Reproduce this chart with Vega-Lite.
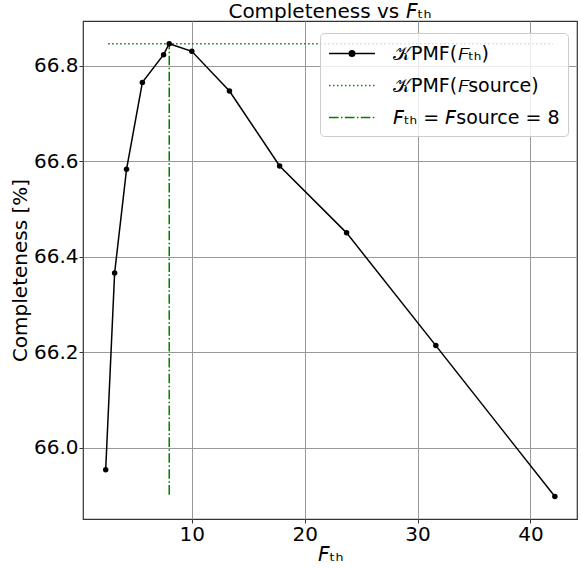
{
  "$schema": "https://vega.github.io/schema/vega-lite/v6.json",
  "width": 494,
  "height": 498,
  "autosize": {"type": "none"},
  "padding": {"left": 83, "top": 21, "right": 5, "bottom": 50},
  "background": "white",
  "config": {
    "font": "DejaVu Sans",
    "view": {"stroke": "#333333", "strokeWidth": 1.2},
    "axis": {
      "labelFont": "DejaVu Sans",
      "titleFont": "DejaVu Sans",
      "labelFontSize": 20,
      "titleFontSize": 20,
      "titleFontWeight": "normal",
      "labelColor": "black",
      "titleColor": "black",
      "domain": false,
      "tickColor": "#333333",
      "tickSize": 4,
      "gridColor": "#999999",
      "gridWidth": 1,
      "gridOpacity": 1
    }
  },
  "title": {
    "text": "Completeness vs 𝘍ₜₕ",
    "font": "DejaVu Sans",
    "fontSize": 20,
    "fontWeight": "normal",
    "color": "black",
    "offset": 3,
    "dy": 4
  },
  "datasets": {
    "curve": [
      {"F": 2.371, "C": 65.954},
      {"F": 3.162, "C": 66.366},
      {"F": 4.217, "C": 66.583},
      {"F": 5.623, "C": 66.765},
      {"F": 7.499, "C": 66.823},
      {"F": 8.0, "C": 66.846},
      {"F": 10.0, "C": 66.830},
      {"F": 13.335, "C": 66.747},
      {"F": 17.783, "C": 66.590},
      {"F": 23.714, "C": 66.450},
      {"F": 31.623, "C": 66.214},
      {"F": 42.17, "C": 65.898}
    ],
    "hline": [{"F": 2.59, "F2": 42.0, "C": 66.846, "series": "b"}],
    "vline": [{"F": 8.0, "C": 65.902, "C2": 66.846, "series": "c"}]
  },
  "encoding": {
    "x": {
      "field": "F",
      "type": "quantitative",
      "scale": {"domain": [0.36, 44.13], "nice": false, "zero": false},
      "axis": {"values": [10, 20, 30, 40], "title": "𝘍ₜₕ", "titlePadding": 0, "labelPadding": 1}
    },
    "y": {
      "field": "C",
      "type": "quantitative",
      "scale": {"domain": [65.851, 66.8935], "nice": false, "zero": false},
      "axis": {"values": [66.0, 66.2, 66.4, 66.6, 66.8], "format": ".1f", "title": "Completeness [%]", "titlePadding": 3, "labelPadding": 1}
    }
  },
  "layer": [
    {
      "data": {"name": "hline"},
      "mark": {"type": "rule", "strokeWidth": 1.5, "strokeDash": [1.5, 2.5]},
      "encoding": {
        "x2": {"field": "F2"},
        "color": {"field": "series", "type": "nominal", "title": null}
      }
    },
    {
      "data": {"name": "vline"},
      "mark": {"type": "rule", "strokeWidth": 1.5, "strokeDash": [9.6, 2.4, 1.5, 2.4]},
      "encoding": {
        "y2": {"field": "C2"},
        "color": {"field": "series", "type": "nominal", "title": null}
      }
    },
    {
      "data": {"name": "curve"},
      "mark": {"type": "line", "strokeWidth": 1.5, "point": {"filled": true, "size": 30, "color": "black"}},
      "encoding": {
        "color": {
          "datum": "a",
          "type": "nominal",
          "title": null,
          "scale": {"domain": ["a", "b", "c"], "range": ["black", "#008000", "#008000"]},
          "legend": {
            "title": null,
            "orient": "none",
            "legendX": 237,
            "legendY": 12,
            "padding": 8,
            "fillColor": "rgba(255,255,255,0.8)",
            "strokeColor": "#cccccc",
            "cornerRadius": 4,
            "labelFont": "DejaVu Sans",
            "labelFontSize": 19,
            "labelColor": "black",
            "labelLimit": 400,
            "labelOffset": 40,
            "symbolType": "M-1,0H3",
            "symbolSize": 529,
            "symbolStrokeWidth": 1.5,
            "rowPadding": 9,
            "labelExpr": "datum.value === 'a' ? '𝒦PMF(𝘍ₜₕ)' : datum.value === 'b' ? '𝒦PMF(𝘍source)' : '𝘍ₜₕ = 𝘍source = 8'",
            "encode": {
              "symbols": {
                "update": {
                  "shape": {"signal": "datum.value === 'a' ? 'M-1,0H3M1.24,0A0.24,0.24,0,1,1,0.76,0A0.24,0.24,0,1,1,1.24,0' : 'M-1,0H3'"},
                  "fill": {"signal": "datum.value === 'a' ? 'black' : 'transparent'"},
                  "strokeDash": {"signal": "datum.value === 'b' ? [1.5, 2.5] : datum.value === 'c' ? [9.6, 2.4, 1.5, 2.4] : []"}
                }
              }
            }
          }
        }
      }
    }
  ]
}
